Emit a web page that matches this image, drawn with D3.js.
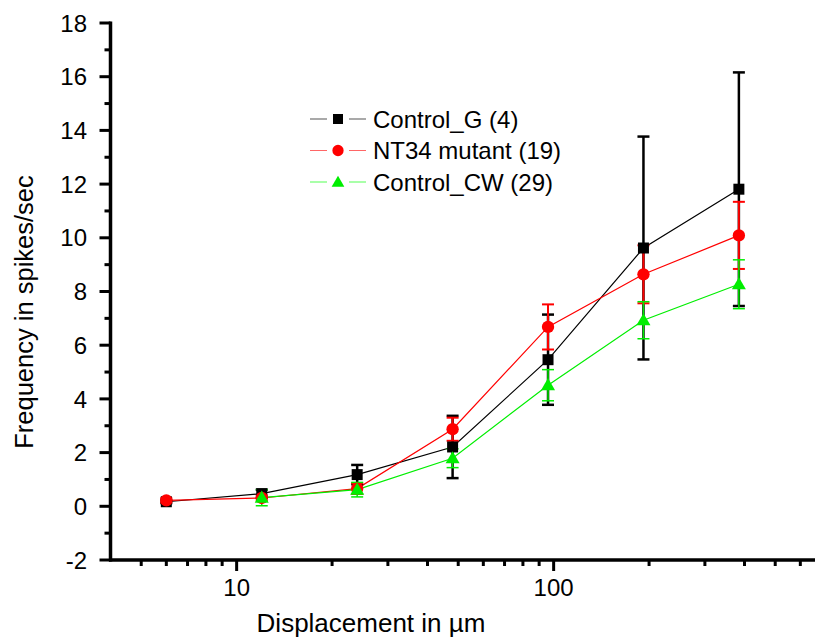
<!DOCTYPE html>
<html>
<head>
  <title>Frequency vs Displacement</title>
  <script src="https://d3js.org/d3.v7.min.js"></script>
  <style>
    body { margin: 0; background: #fff; }
    svg { display: block; font-family: "Liberation Sans", Arial, sans-serif; }
    .tick-label { font-size: 24px; fill: #000; }
    .axis-title { font-size: 26px; fill: #000; }
    .legend-text { font-size: 24px; fill: #000; }
  </style>
</head>
<body>
  <div id="chart"></div>
  <script>
    // displacement steps (µm)
    const displacements = [6, 12, 24, 48, 96, 192, 384];

    // mean firing frequency and error per group
    const controlG = [0.17, 0.47, 1.18, 2.21, 5.46, 9.62, 11.81];
    const controlGErr = [0.05, 0.15, 0.36, 1.16, 1.68, 4.15, 4.35];
    const nt34 = [0.22, 0.31, 0.66, 2.87, 6.68, 8.64, 10.09];
    const nt34Err = [0.08, 0.1, 0.2, 0.43, 0.84, 1.08, 1.25];
    const controlCW = [null, 0.32, 0.62, 1.79, 4.51, 6.93, 8.27];
    const controlCWErr = [null, 0.3, 0.27, 0.35, 0.58, 0.69, 0.91];

    const seriesNames = ["Control_G (4)", "NT34 mutant (19)", "Control_CW (29)"];
    const xTickLabels = [10, 100];
    const yTickLabels = [-2, 0, 2, 4, 6, 8, 10, 12, 14, 16, 18];

    const series = [
      { name: seriesNames[0], values: controlG, errs: controlGErr, color: "#000000", legendLine: "#555", shape: "square", errWidth: 2.5 },
      { name: seriesNames[1], values: nt34, errs: nt34Err, color: "#ff0000", legendLine: "#f66", shape: "circle", errWidth: 2 },
      { name: seriesNames[2], values: controlCW, errs: controlCWErr, color: "#00ee00", legendLine: "#5f5", shape: "triangle", errWidth: 1.5 }
    ];

    const width = 815, height = 641;
    const x0 = 110.5, yBase = 560;

    const svg = d3.select("#chart").append("svg")
      .attr("width", width)
      .attr("height", height);

    const x = d3.scaleLog().domain([4, 700]).range([x0, x0 + Math.log10(700 / 4) * 317]);
    const y = d3.scaleLinear().domain([-2, 18]).range([yBase, 23]);

    // minor ticks
    const xMinor = [];
    [1, 10, 100].forEach(dec => {
      for (let k = 2; k <= 9; k++) {
        const v = k * dec;
        if (v > 4 && v < 700 && v !== 10 && v !== 100) xMinor.push(v);
      }
    });
    const yMinor = d3.range(-1, 18, 2);

    // x axis
    svg.append("line")
      .attr("x1", x0 - 1.5).attr("x2", width)
      .attr("y1", yBase).attr("y2", yBase)
      .attr("stroke", "#000").attr("stroke-width", 3.5);
    svg.selectAll(".xminor").data(xMinor).enter().append("line")
      .attr("x1", d => x(d)).attr("x2", d => x(d))
      .attr("y1", yBase).attr("y2", yBase + 6)
      .attr("stroke", "#000").attr("stroke-width", 3);
    svg.selectAll(".xmajor").data(xTickLabels).enter().append("line")
      .attr("x1", d => x(d)).attr("x2", d => x(d))
      .attr("y1", yBase).attr("y2", yBase + 11)
      .attr("stroke", "#000").attr("stroke-width", 3);
    svg.selectAll(".xlabel").data(xTickLabels).enter().append("text")
      .attr("class", "tick-label")
      .attr("x", d => x(d)).attr("y", 596)
      .attr("text-anchor", "middle")
      .text(d => d);

    // y axis
    svg.append("line")
      .attr("x1", x0).attr("x2", x0)
      .attr("y1", y(18) - 1.5).attr("y2", yBase + 1.5)
      .attr("stroke", "#000").attr("stroke-width", 3.5);
    svg.selectAll(".yminor").data(yMinor).enter().append("line")
      .attr("x1", x0 - 6).attr("x2", x0)
      .attr("y1", d => y(d)).attr("y2", d => y(d))
      .attr("stroke", "#000").attr("stroke-width", 3);
    svg.selectAll(".ymajor").data(yTickLabels).enter().append("line")
      .attr("x1", x0 - 11).attr("x2", x0)
      .attr("y1", d => y(d)).attr("y2", d => y(d))
      .attr("stroke", "#000").attr("stroke-width", 3);
    svg.selectAll(".ylabel").data(yTickLabels).enter().append("text")
      .attr("class", "tick-label")
      .attr("x", 87).attr("y", d => y(d))
      .attr("dy", "0.36em")
      .attr("text-anchor", "end")
      .text(d => d);

    // axis titles
    svg.append("text")
      .attr("class", "axis-title")
      .attr("x", 371).attr("y", 632)
      .attr("text-anchor", "middle")
      .text("Displacement in µm");
    svg.append("text")
      .attr("class", "axis-title")
      .style("font-size", "25.5px")
      .attr("transform", "translate(33,312) rotate(-90)")
      .attr("text-anchor", "middle")
      .text("Frequency in spikes/sec");

    function pts(s) {
      return displacements.map((d, i) => ({ x: d, y: s.values[i], e: s.errs[i] }))
        .filter(p => p.y !== null);
    }

    const symbolFor = {
      square: d3.symbol().type(d3.symbolSquare).size(121),
      circle: d3.symbol().type(d3.symbolCircle).size(120),
      triangle: d3.symbol().type(d3.symbolTriangle).size(85)
    };

    const line = d3.line().x(d => x(d.x)).y(d => y(d.y));

    // connecting lines
    series.forEach(s => {
      svg.append("path")
        .datum(pts(s))
        .attr("d", line)
        .attr("fill", "none")
        .attr("stroke", s.color)
        .attr("stroke-width", 1.2);
    });

    // error bars
    series.forEach(s => {
      const g = svg.append("g");
      pts(s).forEach(p => {
        const cx = x(p.x);
        g.append("line")
          .attr("x1", cx).attr("x2", cx)
          .attr("y1", y(p.y - p.e)).attr("y2", y(p.y + p.e))
          .attr("stroke", s.color).attr("stroke-width", s.errWidth);
        [p.y - p.e, p.y + p.e].forEach(v => {
          g.append("line")
            .attr("x1", cx - 6).attr("x2", cx + 6)
            .attr("y1", y(v)).attr("y2", y(v))
            .attr("stroke", s.color).attr("stroke-width", s.errWidth);
        });
      });
    });

    // markers
    series.forEach(s => {
      svg.selectAll(null).data(pts(s)).enter().append("path")
        .attr("d", symbolFor[s.shape])
        .attr("transform", d => `translate(${x(d.x)},${y(d.y) + (s.shape === "triangle" ? 1 : 0)})`)
        .attr("fill", s.color);
    });

    // legend
    const legend = svg.append("g");
    series.forEach((s, i) => {
      const ly = 119 + i * 31.5;
      legend.append("line")
        .attr("x1", 310).attr("x2", 366)
        .attr("y1", ly).attr("y2", ly)
        .attr("stroke", s.legendLine).attr("stroke-width", 1.2);
      legend.append("rect")
        .attr("x", 327).attr("y", ly - 7).attr("width", 22).attr("height", 14)
        .attr("fill", "#fff");
      legend.append("path")
        .attr("d", symbolFor[s.shape].size(s.shape === "triangle" ? 70 : 100)())
        .attr("transform", `translate(338,${ly + (s.shape === "triangle" ? 1 : 0)})`)
        .attr("fill", s.color);
      legend.append("text")
        .attr("class", "legend-text")
        .attr("x", 373).attr("y", ly)
        .attr("dy", "0.36em")
        .text(s.name);
    });
  </script>
</body>
</html>
